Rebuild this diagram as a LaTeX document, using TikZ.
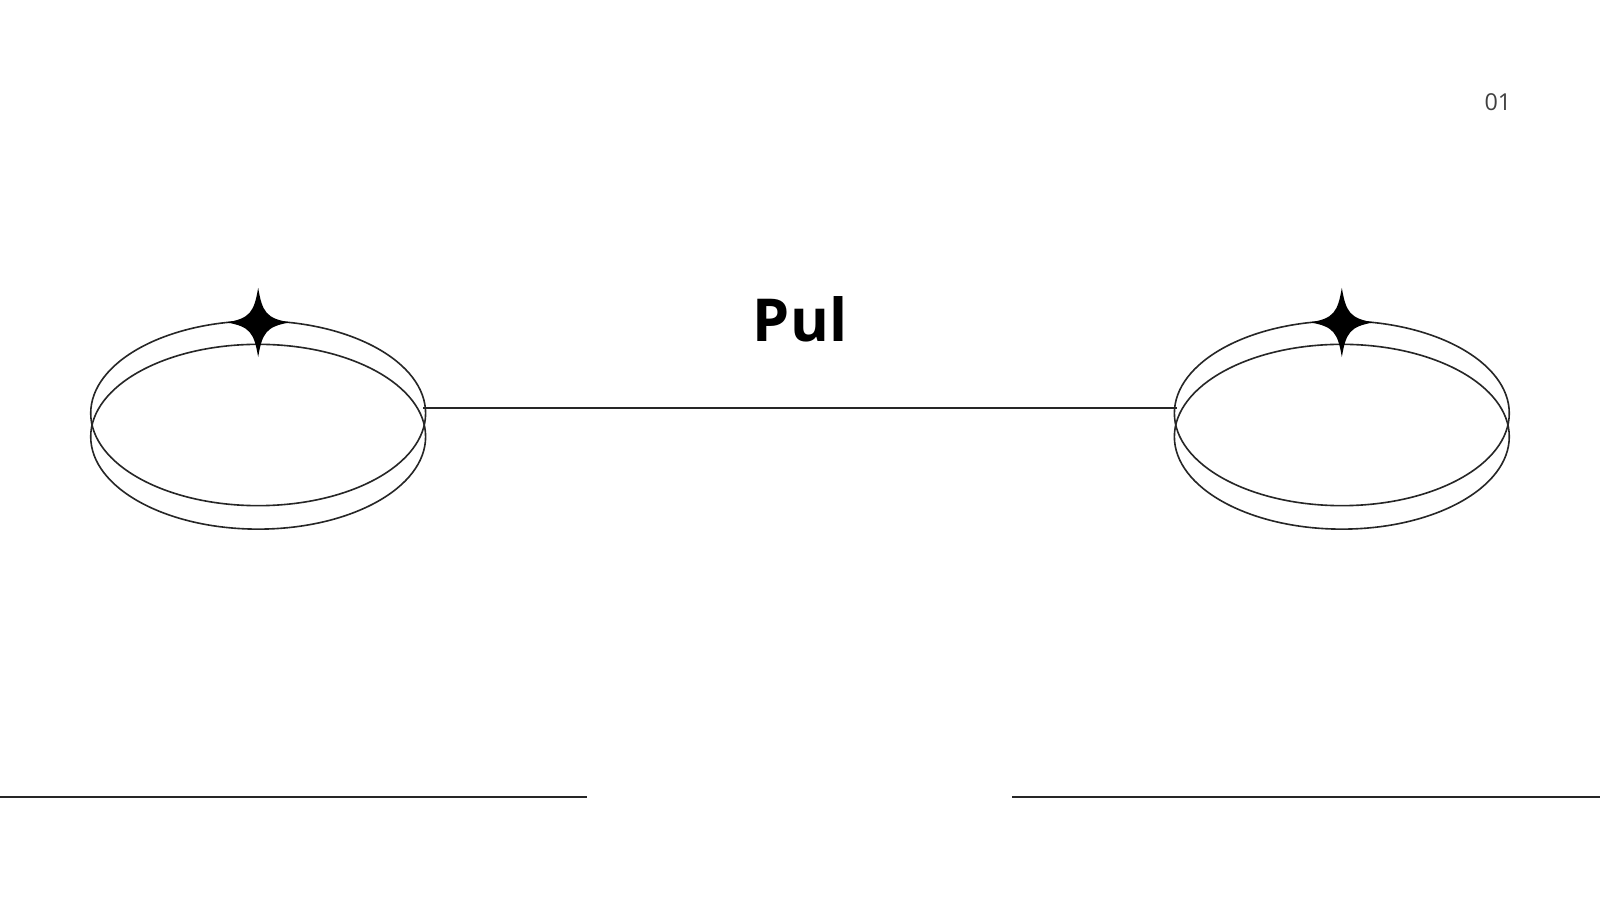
\documentclass[tikz,border=0pt]{standalone}
\usepackage{fontspec}
\setmainfont{Open Sans}
\usetikzlibrary{shapes.geometric}
\begin{document}
\begin{tikzpicture}
      [%%%%%%%%%%%%%%%%%%%%%%%%%%%%%%
      x=0.01cm,y=-0.01cm,
      ring/.style={ellipse,draw=black!85,line width=0.45pt,minimum width=3.28cm,minimum height=1.81cm,inner sep=0pt},
      rule/.style={draw=black!85,line width=0.5pt},
      ]%%%%%%%%%%%%%%%%%%%%%%%%%%%%%%
      \useasboundingbox (0,0) rectangle (1568,882);

      % left ring
      \node[ring] (lup) at (253,405){};
      \node[ring] (llo) at (253,428){};
      % right ring
      \node[ring] (rup) at (1315,405){};
      \node[ring] (rlo) at (1315,428){};

      % stars
      \foreach \cx in {253,1315}{
        \fill[black] (\cx,282) .. controls (\cx+4,306) and (\cx+8,312) .. (\cx+31,316)
          .. controls (\cx+8,320) and (\cx+4,326) .. (\cx,350)
          .. controls (\cx-4,326) and (\cx-8,320) .. (\cx-31,316)
          .. controls (\cx-8,312) and (\cx-4,306) .. (\cx,282) -- cycle;
      }

      \coordinate (la) at (415,400);
      \coordinate (ra) at (1153,400);
      \draw[rule] (la) -- (ra);

      \node (title) at (784,313) {\fontsize{16.5}{18}\selectfont\bfseries Pul};
      \node[text=black!75] (num) at (1468,100) {\fontsize{6.5}{8}\selectfont 01};

      \coordinate (b1) at (0,781);
      \coordinate (b2) at (575,781);
      \coordinate (b3) at (992,781);
      \coordinate (b4) at (1568,781);
      \draw[rule] (b1) -- (b2);
      \draw[rule] (b3) -- (b4);
    \end{tikzpicture}
\end{document}
